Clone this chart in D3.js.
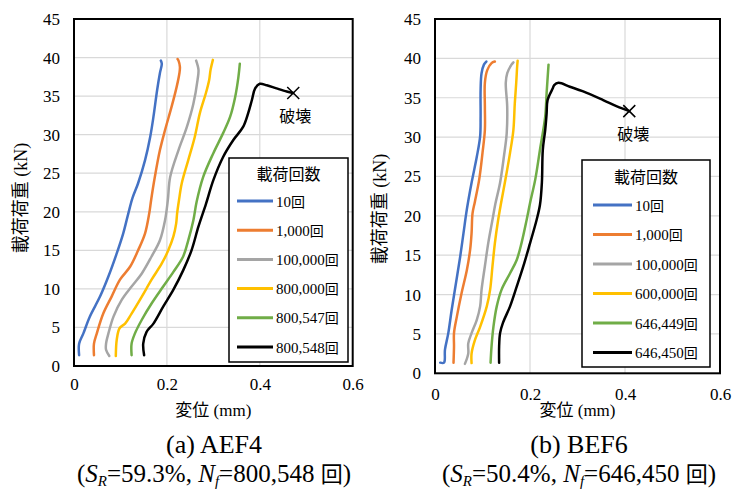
<!DOCTYPE html>
<html><head><meta charset="utf-8">
<script src="https://cdn.jsdelivr.net/npm/d3@7/dist/d3.min.js"></script>
<style>
body{margin:0;background:#fff;}
svg{display:block;}
</style></head>
<body>
<svg id="c" width="733" height="490"></svg>
<script>
// ---------- data ----------
const xTicks = [0, 0.2, 0.4, 0.6];
const yTicks = [0, 5, 10, 15, 20, 25, 30, 35, 40, 45];
const xTitle = "変位 (mm)";
const yTitle = "載荷荷重 (kN)";
const legendTitle = "載荷回数";
const colors = ["#4472C4", "#ED7D31", "#A5A5A5", "#FFC000", "#70AD47", "#000000"];

// Panel (a) AEF4
const namesA = ["10回", "1,000回", "100,000回", "800,000回", "800,547回", "800,548回"];
const a10 = [[0.011,1.4],[0.011,2.9],[0.02,4.2],[0.034,6.4],[0.056,9.0],[0.074,11.6],[0.092,14.6],[0.106,17.2],[0.117,19.8],[0.126,21.8],[0.138,23.7],[0.153,26.7],[0.164,29.7],[0.171,32.3],[0.179,35.8],[0.185,38.0],[0.189,39.2],[0.187,39.6]];
const a1000 = [[0.043,1.4],[0.043,2.9],[0.049,4.2],[0.063,6.8],[0.081,9.0],[0.099,11.2],[0.121,12.9],[0.138,15.0],[0.153,17.2],[0.162,19.8],[0.166,21.5],[0.174,24.5],[0.185,28.0],[0.196,30.6],[0.210,33.6],[0.221,36.2],[0.227,38.0],[0.228,38.8],[0.225,39.6],[0.223,39.8]];
const a100000 = [[0.076,1.3],[0.069,2.1],[0.069,2.9],[0.074,4.2],[0.085,6.4],[0.103,8.6],[0.124,10.3],[0.146,12.0],[0.167,14.2],[0.185,16.3],[0.196,18.9],[0.202,21.5],[0.207,24.5],[0.225,28.0],[0.243,31.0],[0.257,34.0],[0.266,37.1],[0.268,38.4],[0.263,39.6]];
const a800000 = [[0.090,1.3],[0.092,3.4],[0.098,4.9],[0.110,5.5],[0.124,6.8],[0.146,9.0],[0.167,11.2],[0.189,13.3],[0.203,15.0],[0.214,16.8],[0.220,18.5],[0.222,19.8],[0.226,21.5],[0.232,23.7],[0.246,26.7],[0.260,29.7],[0.271,32.8],[0.284,35.4],[0.291,37.1],[0.294,38.4],[0.299,39.7]];
const a800547 = [[0.124,1.4],[0.124,2.9],[0.131,4.2],[0.146,6.0],[0.167,8.1],[0.192,10.3],[0.214,12.2],[0.235,14.2],[0.246,16.3],[0.257,18.9],[0.264,21.3],[0.278,24.5],[0.300,27.6],[0.321,30.2],[0.336,32.3],[0.347,34.9],[0.354,37.5],[0.357,39.2]];
const a800548 = [[0.151,1.4],[0.149,2.9],[0.156,4.4],[0.171,5.5],[0.192,7.7],[0.214,9.9],[0.235,12.4],[0.253,15.0],[0.268,18.1],[0.284,21.0],[0.300,24.1],[0.321,27.1],[0.343,29.3],[0.364,31.0],[0.375,32.8],[0.383,34.5],[0.390,36.0],[0.400,36.6],[0.415,36.4],[0.436,36.0],[0.458,35.6],[0.472,35.4]];
const breakA = [0.472, 35.4];

// Panel (b) BEF6
const namesB = ["10回", "1,000回", "100,000回", "600,000回", "646,449回", "646,450回"];
const b10 = [[0.011,1.35],[0.019,1.35],[0.021,3.0],[0.028,5.1],[0.035,8.0],[0.044,11.4],[0.053,14.8],[0.060,17.8],[0.067,20.8],[0.077,24.2],[0.088,27.5],[0.095,30.1],[0.096,32.6],[0.096,36.0],[0.098,38.1],[0.103,39.2],[0.108,39.6]];
const b1000 = [[0.039,1.35],[0.040,3.4],[0.040,5.1],[0.046,7.2],[0.056,10.2],[0.067,13.1],[0.074,15.7],[0.077,17.8],[0.079,20.3],[0.084,21.8],[0.093,24.6],[0.100,28.0],[0.105,30.9],[0.105,33.9],[0.105,36.9],[0.110,38.5],[0.119,39.4],[0.126,39.6]];
const b100000 = [[0.063,1.2],[0.070,2.5],[0.070,3.8],[0.077,5.1],[0.088,6.8],[0.095,8.5],[0.098,10.6],[0.105,13.6],[0.112,16.5],[0.121,19.5],[0.127,21.5],[0.137,24.2],[0.145,27.5],[0.151,30.5],[0.152,33.9],[0.149,36.9],[0.152,38.1],[0.161,39.2],[0.165,39.5]];
const b600000 = [[0.077,1.3],[0.077,2.5],[0.084,4.2],[0.095,5.9],[0.109,8.5],[0.116,10.6],[0.121,13.6],[0.126,16.5],[0.133,19.5],[0.139,21.6],[0.147,24.2],[0.158,28.0],[0.165,30.9],[0.168,34.3],[0.171,36.9],[0.173,39.0],[0.174,39.7]];
const b646449 = [[0.117,1.35],[0.119,3.4],[0.123,5.9],[0.130,8.5],[0.140,10.6],[0.158,12.7],[0.172,14.4],[0.182,16.5],[0.193,19.5],[0.200,21.6],[0.211,24.6],[0.221,28.4],[0.232,32.6],[0.235,35.6],[0.239,39.2]];
const b646450 = [[0.135,1.35],[0.135,3.4],[0.137,5.1],[0.143,6.4],[0.158,8.5],[0.172,11.0],[0.186,13.6],[0.200,16.5],[0.214,19.5],[0.221,21.4],[0.225,24.2],[0.227,28.4],[0.232,30.9],[0.235,33.0],[0.237,34.7],[0.248,36.2],[0.251,36.6],[0.260,36.9],[0.284,36.4],[0.312,35.8],[0.354,34.7],[0.383,33.9],[0.409,33.3]];
const breakB = [0.409, 33.3];

const breakLabel = "破壊";
const captionsA = ["(a) AEF4", "59.3%", "800,548"];
const captionsB = ["(b) BEF6", "50.4%", "646,450"];

// ---------- drawing ----------
const svg = d3.select("#c");
const serif = "'Liberation Serif','Times New Roman','Noto Sans CJK JP',serif";
const cjk = "'Noto Sans CJK JP','Noto Sans CJK SC',sans-serif";

function panel(cfg) {
  const x = d3.scaleLinear().domain([0, 0.6]).range([cfg.left, cfg.right]);
  const y = d3.scaleLinear().domain([0, 45]).range([cfg.bottom, cfg.top]);
  const g = svg.append("g");

  // grid
  g.selectAll(".gx").data(xTicks.slice(1, -1)).enter().append("line")
    .attr("x1", d => x(d)).attr("x2", d => x(d)).attr("y1", y(0)).attr("y2", y(45))
    .attr("stroke", "#d9d9d9").attr("stroke-width", 1.2);
  g.selectAll(".gy").data(yTicks.slice(1, -1)).enter().append("line")
    .attr("x1", x(0)).attr("x2", x(0.6)).attr("y1", d => y(d)).attr("y2", d => y(d))
    .attr("stroke", "#d9d9d9").attr("stroke-width", 1.2);

  // axes (labels only)
  const ax = g.append("g").attr("transform", `translate(0,${y(0)})`)
    .call(d3.axisBottom(x).tickValues(xTicks).tickFormat(d => d === 0 ? "0" : d3.format(".1f")(d)).tickSize(0).tickPadding(cfg.xPad));
  ax.select(".domain").remove();
  ax.selectAll("text").attr("font-family", serif).attr("font-size", 17).attr("fill", "#000");
  const ay = g.append("g").attr("transform", `translate(${x(0)},0)`)
    .call(d3.axisLeft(y).tickValues(yTicks).tickFormat(d3.format("d")).tickSize(0).tickPadding(14));
  ay.select(".domain").remove();
  ay.selectAll("text").attr("font-family", serif).attr("font-size", 17).attr("fill", "#000");

  // series
  const line = d3.line().x(d => x(d[0])).y(d => y(d[1])).curve(d3.curveCatmullRom.alpha(0.5));
  cfg.series.forEach((s, i) => {
    g.append("path").datum(s).attr("d", line).attr("fill", "none")
      .attr("stroke", colors[i]).attr("stroke-width", 2.5).attr("stroke-linejoin", "round").attr("stroke-linecap", "round");
  });

  // break marker
  const bx = x(cfg.brk[0]), by = y(cfg.brk[1]), r = 6;
  g.append("path").attr("d", `M${bx - r},${by - r}L${bx + r},${by + r}M${bx - r},${by + r}L${bx + r},${by - r}`)
    .attr("stroke", "#000").attr("stroke-width", 1.5);
  g.append("text").attr("x", bx + cfg.brkDx).attr("y", by + 29).attr("text-anchor", "middle")
    .attr("font-family", cjk).attr("font-size", 16).text(breakLabel);

  // plot border
  g.append("rect").attr("x", x(0)).attr("y", y(45)).attr("width", x(0.6) - x(0)).attr("height", y(0) - y(45))
    .attr("fill", "none").attr("stroke", "#000").attr("stroke-width", 2);

  // legend
  const L = cfg.legend;
  g.append("rect").attr("x", L.x0).attr("y", L.y0).attr("width", L.x1 - L.x0).attr("height", L.y1 - L.y0)
    .attr("fill", "#fff").attr("stroke", "#000").attr("stroke-width", 1.5);
  g.append("text").attr("x", (L.x0 + L.x1) / 2).attr("y", L.titleY).attr("text-anchor", "middle")
    .attr("font-family", cjk).attr("font-size", 16).text(legendTitle);
  cfg.names.forEach((n, i) => {
    const yy = L.first + i * L.step;
    g.append("line").attr("x1", L.lx0).attr("x2", L.lx1).attr("y1", yy).attr("y2", yy)
      .attr("stroke", colors[i]).attr("stroke-width", 3);
    const t = g.append("text").attr("x", L.lx1 + 3).attr("y", yy + 5.5).attr("font-family", serif).attr("font-size", 15);
    t.append("tspan").text(n.replace("回", ""));
    t.append("tspan").attr("font-family", cjk).attr("font-size", 14).text("回");
  });

  // axis titles
  g.append("text").attr("x", (x(0) + x(0.6)) / 2).attr("y", 416).attr("text-anchor", "middle")
    .attr("font-family", cjk).attr("font-size", 17).call(t => {
      t.append("tspan").text(xTitle.split(" ")[0]);
      t.append("tspan").attr("font-family", serif).text(" " + xTitle.split(" ")[1]);
    });
  g.append("text").attr("transform", `translate(${cfg.yTitleX},${cfg.yTitleY}) rotate(-90)`)
    .attr("text-anchor", "middle").attr("font-family", cjk).attr("font-size", 18).call(t => {
      t.append("tspan").text(yTitle.split(" ")[0]);
      t.append("tspan").attr("font-family", serif).text(" " + yTitle.split(" ")[1]);
    });

  // captions
  const cx = cfg.capX;
  g.append("text").attr("x", cx).attr("y", 453).attr("text-anchor", "middle")
    .attr("font-family", serif).attr("font-size", 26).text(cfg.cap[0]);
  const c2 = g.append("text").attr("x", cx).attr("y", 482).attr("text-anchor", "middle")
    .attr("font-family", serif).attr("font-size", 25);
  c2.append("tspan").text("(");
  c2.append("tspan").attr("font-style", "italic").text("S");
  c2.append("tspan").attr("font-style", "italic").attr("font-size", 15).attr("dy", 4).text("R");
  c2.append("tspan").attr("dy", -4).text("=" + cfg.cap[1] + ", ");
  c2.append("tspan").attr("font-style", "italic").text("N");
  c2.append("tspan").attr("font-style", "italic").attr("font-size", 15).attr("dy", 4).text("f");
  c2.append("tspan").attr("dy", -4).text("=" + cfg.cap[2] + " ");
  c2.append("tspan").attr("font-family", cjk).attr("font-size", 22).text("回");
  c2.append("tspan").text(")");
}

panel({
  left: 74, right: 352.7, top: 19, bottom: 366, xPad: 12,
  series: [a10, a1000, a100000, a800000, a800547, a800548], names: namesA,
  brk: breakA, brkDx: 2,
  legend: {x0: 229, x1: 348, y0: 158, y1: 362, titleY: 180, first: 201, step: 29.2, lx0: 237, lx1: 273},
  yTitleX: 27, yTitleY: 198, capX: 214, cap: captionsA
});
panel({
  left: 435, right: 720, top: 19, bottom: 373.3, xPad: 15,
  series: [b10, b1000, b100000, b600000, b646449, b646450], names: namesB,
  brk: breakB, brkDx: 4,
  legend: {x0: 582, x1: 710, y0: 160, y1: 367, titleY: 183, first: 205, step: 29.5, lx0: 593, lx1: 632},
  yTitleX: 386, yTitleY: 209, capX: 579, cap: captionsB
});
</script>
</body></html>
